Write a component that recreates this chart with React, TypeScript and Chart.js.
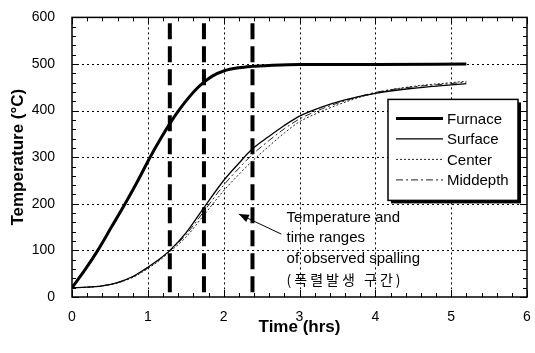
import React, { useEffect, useRef } from 'react';
import { Chart, registerables } from 'chart.js';

Chart.register(...registerables);

// ---- data ----
const furnaceTime = [0, 0.17, 0.34, 0.52, 0.7, 0.87, 1.03, 1.17, 1.29, 1.42, 1.55, 1.65, 1.74, 1.85, 2.0, 2.2, 2.38, 2.6, 3.0, 4.0, 5.2];
const furnaceTemp = [20, 58, 100, 150, 200, 250, 300, 340, 372, 403, 430, 448, 461, 474, 485, 492, 495, 497, 499, 499, 500];

const profileTime = [0, 0.2, 0.4, 0.6, 0.8, 1.0, 1.15, 1.29, 1.5, 1.74, 2.0, 2.2, 2.38, 2.6, 2.8, 3.0, 3.3, 3.6, 4.0, 4.5, 5.0, 5.2];
const surfaceTemp = [20, 21, 24, 31, 44, 64, 81, 100, 137, 192, 250, 287, 318, 345, 368, 388, 408, 423, 437, 448, 455, 458];
const centerTemp = [20, 21, 24, 30, 42, 61, 78, 97, 128, 176, 228, 263, 292, 324, 352, 376, 399, 418, 438, 452, 460, 463];
const middepthTemp = [20, 21, 24, 31, 43, 62, 80, 99, 133, 184, 240, 276, 306, 336, 361, 382, 404, 421, 439, 451, 458, 461];

const spallingTimes = [1.29, 1.74, 2.38];
const spallingTempRange = [10, 595];

const xTickValues = [0, 1, 2, 3, 4, 5, 6];
const yTickValues = [0, 100, 200, 300, 400, 500, 600];

const xTitle = 'Time (hrs)';
const yTitle = 'Temperature (°C)';
const seriesLabels = ['Furnace', 'Surface', 'Center', 'Middepth'];
const noteLines = ['Temperature and', 'time ranges', 'of observed spalling', '(폭렬발생 구간)'];
// annotation anchor (data units): text left x, first line y, line step; arrow tail & tip
const noteAnchor = { x: 2.83, y: 170, step: 44 };
const arrowTail = { x: 2.76, y: 135 };
const arrowTip = { x: 2.2, y: 178 };

const FONT = "'Liberation Sans', Arial, sans-serif";
const xMin = 0, xMax = 6, yMin = 0, yMax = 600;

const pts = (xs: number[], ys: number[]) => xs.map((t, i) => ({ x: t, y: ys[i] }));

const decorPlugin = {
  id: 'decor',
  beforeDatasetsDraw(chart: any) {
    const { ctx, chartArea: a } = chart;
    const xs = chart.scales.x, ys = chart.scales.y;
    ctx.save();
    ctx.strokeStyle = '#000';
    ctx.lineWidth = 1;
    ctx.setLineDash([2, 3]);
    ctx.beginPath();
    xTickValues.forEach((v) => {
      if (v <= xMin || v >= xMax) return;
      const p = Math.round(xs.getPixelForValue(v)) + 0.5;
      ctx.moveTo(p, a.top);
      ctx.lineTo(p, a.bottom);
    });
    yTickValues.forEach((v) => {
      if (v <= yMin || v >= yMax) return;
      const p = Math.round(ys.getPixelForValue(v)) + 0.5;
      ctx.moveTo(a.left, p);
      ctx.lineTo(a.right, p);
    });
    ctx.stroke();
    ctx.restore();
  },
  afterDatasetsDraw(chart: any) {
    const { ctx, chartArea: a } = chart;
    const xs = chart.scales.x, ys = chart.scales.y;
    ctx.save();
    ctx.strokeStyle = '#000';
    ctx.setLineDash([]);
    // ticks (inward, all sides)
    ctx.lineWidth = 1;
    ctx.beginPath();
    for (let i = 0; i <= 30; i++) {
      const v = i * 0.2;
      const len = i % 5 === 0 ? 7 : 4;
      const p = Math.round(xs.getPixelForValue(v)) + 0.5;
      ctx.moveTo(p, a.bottom); ctx.lineTo(p, a.bottom - len);
      ctx.moveTo(p, a.top); ctx.lineTo(p, a.top + len);
    }
    for (let i = 0; i <= 30; i++) {
      const v = i * 20;
      const len = i % 5 === 0 ? 7 : 4;
      const p = Math.round(ys.getPixelForValue(v)) + 0.5;
      ctx.moveTo(a.left, p); ctx.lineTo(a.left + len, p);
      ctx.moveTo(a.right, p); ctx.lineTo(a.right - len, p);
    }
    ctx.stroke();
    // frame
    ctx.lineWidth = 1.5;
    ctx.strokeRect(a.left, a.top, a.right - a.left, a.bottom - a.top);

    // legend
    const bx = a.right - 139, by = a.top + 82, bw = 130, bh = 101;
    ctx.fillStyle = '#000';
    ctx.fillRect(bx + 3, by + 3, bw, bh);
    ctx.fillStyle = '#fff';
    ctx.fillRect(bx, by, bw, bh);
    ctx.lineWidth = 1.5;
    ctx.strokeRect(bx, by, bw, bh);
    const entries = chart.data.datasets.filter((d: any) => d.inLegend);
    entries.forEach((d: any, i: number) => {
      const yy = by + 19 + i * 20.5;
      ctx.save();
      ctx.lineWidth = d.borderWidth;
      ctx.strokeStyle = d.borderColor;
      ctx.setLineDash(d.borderDash || []);
      ctx.beginPath();
      ctx.moveTo(bx + 8, yy);
      ctx.lineTo(bx + 55, yy);
      ctx.stroke();
      ctx.restore();
      ctx.fillStyle = '#000';
      ctx.font = `15px ${FONT}`;
      ctx.textBaseline = 'middle';
      ctx.textAlign = 'left';
      ctx.fillText(d.label, bx + 59, yy + 1);
    });

    // annotation
    ctx.fillStyle = '#000';
    ctx.textBaseline = 'middle';
    ctx.textAlign = 'left';
    const tx = xs.getPixelForValue(noteAnchor.x);
    noteLines.forEach((t, i) => {
      const ty = ys.getPixelForValue(noteAnchor.y - i * noteAnchor.step);
      const isKo = /[\uac00-\ud7a3]/.test(t);
      ctx.font = isKo ? `14px 'Noto Sans CJK KR', sans-serif` : `15px ${FONT}`;
      if (isKo) (ctx as any).letterSpacing = '3px';
      ctx.fillText(t, tx, ty);
      (ctx as any).letterSpacing = '0px';
    });
    // arrow
    const x1 = xs.getPixelForValue(arrowTail.x), y1 = ys.getPixelForValue(arrowTail.y);
    const x2 = xs.getPixelForValue(arrowTip.x), y2 = ys.getPixelForValue(arrowTip.y);
    ctx.lineWidth = 1;
    ctx.beginPath();
    ctx.moveTo(x1, y1);
    ctx.lineTo(x2, y2);
    ctx.stroke();
    const ang = Math.atan2(y2 - y1, x2 - x1);
    const L = 10, W = 4;
    ctx.beginPath();
    ctx.moveTo(x2, y2);
    ctx.lineTo(x2 - L * Math.cos(ang) + W * Math.sin(ang), y2 - L * Math.sin(ang) - W * Math.cos(ang));
    ctx.lineTo(x2 - L * Math.cos(ang) - W * Math.sin(ang), y2 - L * Math.sin(ang) + W * Math.cos(ang));
    ctx.closePath();
    ctx.fill();
    ctx.restore();
  },
};

export default function App() {
  const ref = useRef<HTMLCanvasElement>(null);
  useEffect(() => {
    if (!ref.current) return;
    const spallSets = spallingTimes.map((t) => ({
      label: '',
      inLegend: false,
      data: [{ x: t, y: spallingTempRange[0] }, { x: t, y: spallingTempRange[1] }],
      borderColor: '#000',
      borderWidth: 4,
      borderDash: [16, 7],
      pointRadius: 0,
      tension: 0,
    }));
    const chart = new Chart(ref.current, {
      type: 'line',
      data: {
        datasets: [
          { label: seriesLabels[0], inLegend: true, data: pts(furnaceTime, furnaceTemp), borderColor: '#000', borderWidth: 3, borderDash: [], pointRadius: 0, cubicInterpolationMode: 'monotone' },
          { label: seriesLabels[1], inLegend: true, data: pts(profileTime, surfaceTemp), borderColor: '#000', borderWidth: 1.3, borderDash: [], pointRadius: 0, cubicInterpolationMode: 'monotone' },
          { label: seriesLabels[2], inLegend: true, data: pts(profileTime, centerTemp), borderColor: '#222', borderWidth: 1, borderDash: [2, 2], pointRadius: 0, cubicInterpolationMode: 'monotone' },
          { label: seriesLabels[3], inLegend: true, data: pts(profileTime, middepthTemp), borderColor: '#222', borderWidth: 1, borderDash: [7, 3, 2, 3], pointRadius: 0, cubicInterpolationMode: 'monotone' },
          ...spallSets,
        ] as any,
      },
      options: {
        animation: false,
        responsive: false,
        devicePixelRatio: 1,
        layout: { padding: { top: 13, right: 8, left: 0, bottom: 0 } },
        plugins: { legend: { display: false }, tooltip: { enabled: false } },
        scales: {
          x: {
            type: 'linear',
            min: xMin,
            max: xMax,
            afterFit: (s: any) => { s.height = 56; },
            afterBuildTicks: (s: any) => { s.ticks = xTickValues.map((v) => ({ value: v })); },
            ticks: { color: '#000', font: { family: FONT, size: 14 }, padding: 4 },
            grid: { display: false },
            border: { display: false },
            title: { display: true, text: xTitle, color: '#000', font: { family: FONT, size: 17, weight: 'bold' }, padding: { top: 0, bottom: 15 } },
          },
          y: {
            type: 'linear',
            min: yMin,
            max: yMax,
            afterFit: (s: any) => { s.width = 72; },
            afterBuildTicks: (s: any) => { s.ticks = yTickValues.map((v) => ({ value: v })); },
            ticks: { color: '#000', font: { family: FONT, size: 14 }, padding: 9 },
            grid: { display: false },
            border: { display: false },
            title: { display: true, text: yTitle, color: '#000', font: { family: FONT, size: 17, weight: 'bold' }, padding: { top: 8, bottom: 0 } },
          },
        },
      } as any,
      plugins: [decorPlugin],
    });
    return () => chart.destroy();
  }, []);
  return (
    <div style={{ position: 'fixed', left: 0, top: 0, width: 535, height: 353, background: '#fff' }}>
      <canvas ref={ref} width={535} height={353} style={{ display: 'block' }} />
    </div>
  );
}
